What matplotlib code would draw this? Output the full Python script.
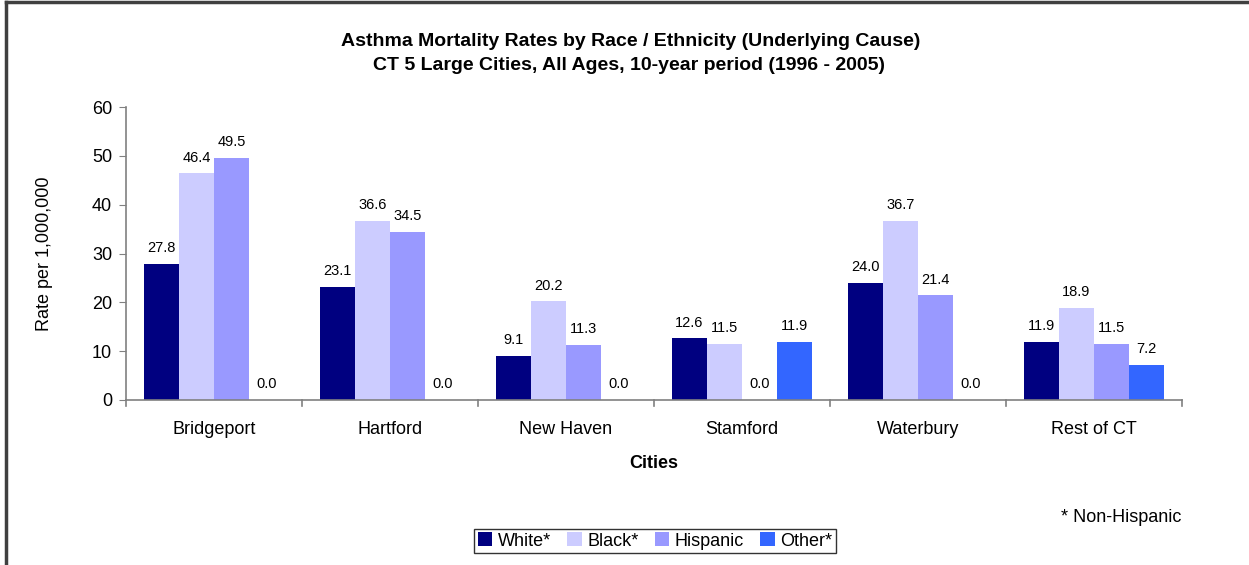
import matplotlib
matplotlib.use("Agg")
import matplotlib.pyplot as plt
import numpy as np
from matplotlib.patches import Patch
from matplotlib.lines import Line2D

plt.rcParams['font.family'] = ['Liberation Sans', 'DejaVu Sans']

cities = ["Bridgeport", "Hartford", "New Haven", "Stamford", "Waterbury", "Rest of CT"]
series_names = ["White*", "Black*", "Hispanic", "Other*"]
white = [27.8, 23.1, 9.1, 12.6, 24.0, 11.9]
black = [46.4, 36.6, 20.2, 11.5, 36.7, 18.9]
hispanic = [49.5, 34.5, 11.3, 0.0, 21.4, 11.5]
other = [0.0, 0.0, 0.0, 11.9, 0.0, 7.2]
colors = ["#000080", "#CCCCFF", "#9999FF", "#3366FF"]
yticks = [0, 10, 20, 30, 40, 50, 60]

W, H = 1249, 565
fig = plt.figure(figsize=(W / 100, H / 100), dpi=100)
ax = fig.add_axes([126 / W, 1 - 400 / H, (1182 - 126) / W, (400 - 107) / H])

x = np.arange(len(cities))
bw = 0.2
data = [white, black, hispanic, other]
for i, (vals, c, name) in enumerate(zip(data, colors, series_names)):
    pos = x - 0.3 + i * bw
    ax.bar(pos, vals, width=bw, color=c, label=name, linewidth=0)
    for p, v in zip(pos, vals):
        ax.text(p, v + 1.8, f"{v:.1f}", ha="center", va="bottom", fontsize=10.5, color="black")

ax.set_xlim(-0.5, len(cities) - 0.5)
ax.set_ylim(0, 60)
ax.set_yticks(yticks)
ax.set_yticklabels([str(t) for t in yticks], fontsize=13)
ax.set_xticks(x)
ax.set_xticklabels(cities, fontsize=13)
ax.tick_params(axis="x", length=0, pad=15)
ax.tick_params(axis="y", length=5, color="#808080", pad=5)
# group separator ticks on x axis
for b in np.arange(-0.5, len(cities), 1.0):
    ax.plot([b, b], [0, -1.2], color="#808080", lw=1.2, clip_on=False)

for s in ["top", "right"]:
    ax.spines[s].set_visible(False)
for s in ["left", "bottom"]:
    ax.spines[s].set_color("#808080")
    ax.spines[s].set_linewidth(1.2)

ax.set_ylabel("Rate per 1,000,000", fontsize=13)
ax.yaxis.set_label_coords((45 - 126) / 1056, 0.5)
ax.set_xlabel("Cities", fontsize=13, fontweight="bold")
ax.xaxis.set_label_coords(0.5, -(463 - 400) / 293)
ax.xaxis.label.set_va("center")
ax.yaxis.label.set_va("center")

fig.text(631 / W, 1 - 46 / H, "Asthma Mortality Rates by Race / Ethnicity (Underlying Cause)",
         ha="center", va="baseline", fontsize=14, fontweight="bold")
fig.text(629 / W, 1 - 70 / H, "CT 5 Large Cities, All Ages, 10-year period (1996 - 2005)",
         ha="center", va="baseline", fontsize=14, fontweight="bold")

fig.text(1181 / W, 1 - 518 / H, "* Non-Hispanic", ha="right", va="center", fontsize=13)

handles = [Patch(facecolor=c, edgecolor="none") for c in colors]
leg = fig.legend(handles, series_names, loc="center", bbox_to_anchor=(655 / W, 1 - 541 / H),
                 ncol=4, frameon=True, fontsize=13, handlelength=0.8, handleheight=0.8,
                 handletextpad=0.3, columnspacing=0.9, borderpad=0.2, fancybox=False,
                 borderaxespad=0)
leg.get_frame().set_edgecolor("black")
leg.get_frame().set_linewidth(1.0)

# figure border (top and left visible)
fig.add_artist(Line2D([6 / W, 1], [1 - 1.5 / H, 1 - 1.5 / H], color="#404040", lw=2.5, transform=fig.transFigure))
fig.add_artist(Line2D([6 / W, 6 / W], [0, 1 - 1.5 / H], color="#404040", lw=2.5, transform=fig.transFigure))

fig.savefig("out.png", dpi=100)
